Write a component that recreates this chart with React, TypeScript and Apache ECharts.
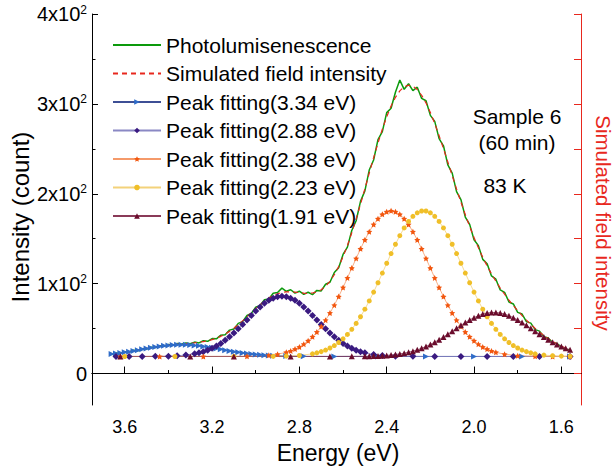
import React, { useEffect, useRef } from "react";
import * as echarts from "echarts";

const FONT = "'Liberation Sans', Arial, sans-serif";

// Energy grid (eV) for the measured PL and the simulated sum
const energyGrid = [3.66,3.64,3.62,3.60,3.58,3.56,3.54,3.52,3.50,3.48,3.46,3.44,3.42,3.40,3.38,3.36,3.34,3.32,3.30,3.28,3.26,3.24,3.22,3.20,3.18,3.16,3.14,3.12,3.10,3.08,3.06,3.04,3.02,3.00,2.98,2.96,2.94,2.92,2.90,2.88,2.86,2.84,2.82,2.80,2.78,2.76,2.74,2.72,2.70,2.68,2.66,2.64,2.62,2.60,2.58,2.56,2.54,2.52,2.50,2.48,2.46,2.44,2.42,2.40,2.38,2.36,2.34,2.32,2.30,2.28,2.26,2.24,2.22,2.20,2.18,2.16,2.14,2.12,2.10,2.08,2.06,2.04,2.02,2.00,1.98,1.96,1.94,1.92,1.90,1.88,1.86,1.84,1.82,1.80,1.78,1.76,1.74,1.72,1.70,1.68,1.66,1.64,1.62,1.60,1.58,1.56];

const plValues = [21.0,22.9,22.1,24.2,23.8,25.9,25.4,27.5,27.2,29.3, 28.9,30.9,30.4,32.3,31.6,33.4,32.5,34.1,33.2,35.0, 34.1,36.6,35.9,38.9,38.6,42.7,43.1,48.3,49.6,55.8, 57.7,64.6,66.9,73.9,75.8,82.1,83.0,89.4,90.2,95.0, 91.5,93.2,89.4,91.6,88.1,90.4,87.8,92.5,91.9,99.3, 101.5,112.4,117.6,132.5,140.6,159.1,170.0,191.5,203.2,226.4, 237.6,260.2,269.1,290.3,295.2,313.0,326.5,316.2,322.4,314.8, 318.6,306.1,303.5,287.2,280.6,261.3,253.4,232.1,223.0,202.4, 193.5,174.1,166.0,148.8,142.3,127.0,122.1,108.6,105.0,93.0, 90.3,79.6,77.4,68.1,66.2,57.8,56.1,48.9,47.2,40.9, 39.6,34.6,33.4,29.6,26.1,26.8];

const simValues = [21.7,22.2,22.9,23.6,24.3,25.2,26.0,26.9,27.8,28.7, 29.5,30.3,31.0,31.6,32.2,32.7,33.1,33.4,33.8,34.2, 34.8,35.5,36.4,37.7,39.3,41.4,43.9,46.9,50.4,54.3, 58.6,63.1,67.7,72.2,76.5,80.4,83.9,86.7,88.8,90.2, 90.8,90.9,90.6,90.0,89.5,89.2,89.6,90.9,93.3,97.2, 102.7,109.9,119.0,129.9,142.4,156.6,172.0,188.5,205.5,222.9, 240.0,256.4,271.8,285.7,297.6,307.3,314.5,319.0,320.8,319.7, 315.9,309.6,301.0,290.4,278.2,264.7,250.2,235.3,220.2,205.2, 190.7,176.8,163.6,151.3,139.9,129.4,119.7,110.9,102.7,95.2, 88.2,81.7,75.6,69.9,64.5,59.4,54.7,50.2,46.1,42.3, 38.8,35.7,32.9,30.5,28.4,26.6];

// Peak fitting 3.34 eV
const peak334E = [3.66,3.64,3.62,3.60,3.58,3.56,3.54,3.52,3.50,3.48,3.46,3.44,3.42,3.40,3.38,3.36,3.34,3.32,3.30,3.28,3.26,3.24,3.22,3.20,3.18,3.16,3.14,3.12,3.10,3.08,3.06,3.04,3.02,3.00,2.98,2.96,2.94,2.92,2.86,2.78,2.64,2.44,2.22,2.00,1.78,1.56];
const peak334V = [21.7,22.2,22.9,23.6,24.3,25.2,26.0,26.9,27.8,28.6,29.4,30.1,30.8,31.3,31.7,31.9,32.0,31.9,31.7,31.3,30.8,30.1,29.4,28.6,27.8,26.9,26.0,25.2,24.3,23.6,22.9,22.2,21.7,21.2,20.8,20.4,20.1,19.9,19.4,19.1,19.0,19.0,19.0,19.0,19.0,19.0];

// Peak fitting 2.88 eV
const peak288E = [3.64,3.58,3.52,3.46,3.40,3.36,3.32,3.28,3.26,3.24,3.22,3.20,3.18,3.16,3.14,3.12,3.10,3.08,3.06,3.04,3.02,3.00,2.98,2.96,2.94,2.92,2.90,2.88,2.86,2.84,2.82,2.80,2.78,2.76,2.74,2.72,2.70,2.68,2.66,2.64,2.62,2.60,2.58,2.56,2.54,2.52,2.50,2.46,2.42,2.36,2.28,2.18,2.06,1.94,1.82,1.70,1.56];
const peak288V = [19.0,19.0,19.0,19.1,19.3,19.7,20.5,21.9,23.0,24.3,26.0,28.1,30.6,33.5,36.9,40.8,45.0,49.7,54.6,59.6,64.7,69.6,74.1,78.1,81.5,83.9,85.5,86.0,85.5,83.9,81.5,78.1,74.1,69.6,64.7,59.6,54.6,49.7,45.0,40.8,36.9,33.5,30.6,28.1,26.0,24.3,23.0,21.1,20.1,19.3,19.1,19.0,19.0,19.0,19.0,19.0,19.0];

// Peak fitting 2.38 eV
const peak238E = [3.62,3.44,3.24,3.04,2.94,2.90,2.86,2.84,2.82,2.80,2.78,2.76,2.74,2.72,2.70,2.68,2.66,2.64,2.62,2.60,2.58,2.56,2.54,2.52,2.50,2.48,2.46,2.44,2.42,2.40,2.38,2.36,2.34,2.32,2.30,2.28,2.26,2.24,2.22,2.20,2.18,2.16,2.14,2.12,2.10,2.08,2.06,2.04,2.02,2.00,1.98,1.96,1.94,1.92,1.90,1.86,1.80,1.72,1.64,1.56];
const peak238V = [19.0,19.0,19.0,19.2,20.3,21.5,23.6,25.2,27.2,29.6,32.7,36.5,40.9,46.2,52.4,59.4,67.3,76.1,85.6,95.8,106.4,117.3,128.1,138.7,148.7,157.8,165.8,172.3,177.1,180.0,181.0,180.0,177.1,172.3,165.8,157.8,148.7,138.7,128.1,117.3,106.4,95.8,85.6,76.1,67.3,59.4,52.4,46.2,40.9,36.5,32.7,29.6,27.2,25.2,23.6,21.5,19.9,19.2,19.0,19.0];

// Peak fitting 2.23 eV
const peak223E = [3.60,3.37,3.10,2.92,2.86,2.80,2.74,2.72,2.70,2.68,2.66,2.64,2.62,2.60,2.58,2.56,2.54,2.52,2.50,2.48,2.46,2.44,2.42,2.40,2.38,2.36,2.34,2.32,2.30,2.28,2.26,2.24,2.22,2.20,2.18,2.16,2.14,2.12,2.10,2.08,2.06,2.04,2.02,2.00,1.98,1.96,1.94,1.92,1.90,1.88,1.86,1.84,1.82,1.80,1.78,1.76,1.74,1.72,1.68,1.64,1.60,1.56];
const peak223V = [19.0,19.0,19.0,19.1,19.4,20.1,21.9,23.0,24.4,26.1,28.4,31.1,34.5,38.6,43.5,49.2,55.8,63.2,71.6,80.8,90.6,101.0,111.8,122.7,133.5,143.8,153.4,162.0,169.2,174.9,178.8,180.8,180.8,178.8,174.9,169.2,162.0,153.4,143.8,133.5,122.7,111.8,101.0,90.6,80.8,71.6,63.2,55.8,49.2,43.5,38.6,34.5,31.1,28.4,26.1,24.4,23.0,21.9,20.5,19.8,19.4,19.2];

// Peak fitting 1.91 eV
const peak191E = [3.62,3.30,3.10,2.84,2.66,2.56,2.50,2.48,2.46,2.44,2.42,2.40,2.38,2.36,2.34,2.32,2.30,2.28,2.26,2.24,2.22,2.20,2.18,2.16,2.14,2.12,2.10,2.08,2.06,2.04,2.02,2.00,1.98,1.96,1.94,1.92,1.90,1.88,1.86,1.84,1.82,1.80,1.78,1.76,1.74,1.72,1.70,1.68,1.66,1.64,1.62,1.60,1.58,1.56];
const peak191V = [19.0,19.0,19.0,19.0,19.0,19.1,19.2,19.3,19.5,19.6,19.9,20.2,20.6,21.2,21.8,22.7,23.7,24.9,26.4,28.1,30.1,32.4,34.9,37.7,40.7,43.8,47.1,50.4,53.6,56.8,59.7,62.2,64.4,66.2,67.3,67.9,67.9,67.3,66.2,64.4,62.2,59.7,56.8,53.6,50.4,47.1,43.8,40.7,37.7,34.9,32.4,30.1,28.1,26.4];

const xMajorTicks = [3.6, 3.2, 2.8, 2.4, 2.0, 1.6];
const xMinorTicks = [3.4, 3.0, 2.6, 2.2, 1.8];
const yMajorTicks = [0, 100, 200, 300, 400];
const yMinorTicks = [50, 150, 250, 350];
const yRightTicks = [0, 50, 100, 150, 200, 250, 300, 350, 400];

const zip = (xs: number[], ys: number[]) => xs.map((x, i) => [x, ys[i]]);

const STAR = "path://M0,-10L2.9,-4L9.5,-3.1L4.8,1.5L5.9,8.1L0,5L-5.9,8.1L-4.8,1.5L-9.5,-3.1L-2.9,-4Z";

const centered = { textAlign: "center", textVerticalAlign: "middle", align: "center", verticalAlign: "middle" };

export default function App() {
  const ref = useRef<HTMLDivElement>(null);
  useEffect(() => {
    if (!ref.current) return;
    const chart = echarts.init(ref.current, undefined, { renderer: "svg" });
    const X = { min: 1.51, max: 3.75, inverse: true, type: "value" as const };
    const Y = { min: -35, max: 400, type: "value" as const };
    chart.setOption({
      animation: false,
      backgroundColor: "#fff",
      textStyle: { fontFamily: FONT },
      grid: { left: 92, right: 34, top: 14, bottom: 63, containLabel: false },
      legend: {
        orient: "vertical",
        left: 112,
        top: 34.5,
        padding: 0,
        itemWidth: 48,
        itemHeight: 7,
        itemGap: 7.5,
        selectedMode: false,
        textStyle: { fontSize: 21, lineHeight: 21, color: "#000", fontFamily: FONT },
        data: [
          { name: "Photolumisenescence", itemStyle: { opacity: 0 } },
          { name: "Simulated field intensity", itemStyle: { opacity: 0 } },
          { name: "Peak fitting(3.34 eV)" },
          { name: "Peak fitting(2.88 eV)" },
          { name: "Peak fitting(2.38 eV)" },
          { name: "Peak fitting(2.23 eV)" },
          { name: "Peak fitting(1.91 eV)" },
        ],
      },
      xAxis: [
        {
          ...X,
          position: "bottom",
          axisLine: { show: true, lineStyle: { color: "#000", width: 1 } },
          axisTick: { show: true, inside: true, length: 7, customValues: xMajorTicks, lineStyle: { color: "#000" } },
          axisLabel: {
            show: true,
            customValues: xMajorTicks,
            formatter: (v: number) => v.toFixed(1),
            fontSize: 18,
            color: "#000",
            margin: 13,
            fontFamily: FONT,
          },
          splitLine: { show: false },
        },
        {
          ...X,
          position: "bottom",
          axisLine: { show: false },
          axisTick: { show: true, inside: true, length: 3.5, customValues: xMinorTicks, lineStyle: { color: "#000" } },
          axisLabel: { show: false },
          splitLine: { show: false },
        },
        {
          ...X,
          position: "top",
          axisLine: { show: true, lineStyle: { color: "#000", width: 1 } },
          axisTick: { show: false },
          axisLabel: { show: false },
          splitLine: { show: false },
        },
      ],
      yAxis: [
        {
          ...Y,
          position: "left",
          axisLine: { show: true, lineStyle: { color: "#000", width: 1 } },
          axisTick: { show: true, inside: true, length: 6, customValues: yMajorTicks, lineStyle: { color: "#000" } },
          axisLabel: {
            show: true,
            customValues: yMajorTicks,
            margin: 5,
            formatter: (v: number) => (v === 0 ? "{b|0}" : `{b|${v / 100}x10}{s|2}`),
            rich: {
              b: { fontSize: 20, lineHeight: 21, color: "#000", fontFamily: FONT },
              s: { fontSize: 12, lineHeight: 12, color: "#000", fontFamily: FONT, padding: [0, 0, 9, 0] },
            },
          },
          splitLine: { show: false },
        },
        {
          ...Y,
          position: "left",
          axisLine: { show: false },
          axisTick: { show: true, inside: true, length: 3.5, customValues: yMinorTicks, lineStyle: { color: "#000" } },
          axisLabel: { show: false },
          splitLine: { show: false },
        },
        {
          ...Y,
          position: "right",
          axisLine: { show: true, lineStyle: { color: "#e8281e", width: 1 } },
          axisTick: { show: true, inside: true, length: 7, customValues: yRightTicks, lineStyle: { color: "#e8281e" } },
          axisLabel: { show: false },
          splitLine: { show: false },
        },
      ],
      series: [
        {
          name: "Photolumisenescence",
          type: "line",
          data: zip(energyGrid, plValues),
          symbol: "none",
          lineStyle: { color: "#0c9a0c", width: 1.5 },
          itemStyle: { color: "#0c9a0c" },
          z: 2,
        },
        {
          name: "Simulated field intensity",
          type: "line",
          data: zip(energyGrid, simValues),
          symbol: "none",
          lineStyle: { color: "#e8281e", width: 1.2, type: [5, 4] },
          itemStyle: { color: "#e8281e" },
          z: 3,
        },
        {
          name: "Peak fitting(3.34 eV)",
          type: "line",
          data: zip(peak334E, peak334V),
          symbol: "triangle",
          symbolRotate: -90,
          symbolSize: 6,
          itemStyle: { color: "#2f6cc8" },
          lineStyle: { color: "#3d4f95", width: 1 },
          z: 4,
        },
        {
          name: "Peak fitting(2.88 eV)",
          type: "line",
          data: zip(peak288E, peak288V),
          symbol: "diamond",
          symbolSize: 7,
          itemStyle: { color: "#3a1a80" },
          lineStyle: { color: "#8a88c4", width: 0.8 },
          z: 4,
        },
        {
          name: "Peak fitting(2.38 eV)",
          type: "line",
          data: zip(peak238E, peak238V),
          symbol: STAR,
          symbolSize: 6,
          itemStyle: { color: "#f2560e" },
          lineStyle: { color: "#f59a6a", width: 0.8 },
          z: 4,
        },
        {
          name: "Peak fitting(2.23 eV)",
          type: "line",
          data: zip(peak223E, peak223V),
          symbol: "circle",
          symbolSize: 5,
          itemStyle: { color: "#f0bf28" },
          lineStyle: { color: "#f3d27a", width: 0.8 },
          z: 4,
        },
        {
          name: "Peak fitting(1.91 eV)",
          type: "line",
          data: zip(peak191E, peak191V),
          symbol: "triangle",
          symbolSize: 6,
          itemStyle: { color: "#6a0c2c" },
          lineStyle: { color: "#8a3a58", width: 0.8 },
          z: 4,
        },
      ],
      graphic: [
        { type: "text", x: 517, y: 116, style: { text: "Sample 6", fontSize: 21, fontFamily: FONT, fill: "#000", ...centered } },
        { type: "text", x: 517, y: 142, style: { text: "(60 min)", fontSize: 21, fontFamily: FONT, fill: "#000", ...centered } },
        { type: "text", x: 505, y: 185, style: { text: "83 K", fontSize: 21, fontFamily: FONT, fill: "#000", ...centered } },
        { type: "text", x: 338, y: 453, style: { text: "Energy (eV)", fontSize: 23, fontFamily: FONT, fill: "#000", ...centered } },
        { type: "text", x: 20, y: 217, rotation: Math.PI / 2, style: { text: "Intensity (count)", fontSize: 24, fontFamily: FONT, fill: "#000", ...centered } },
        { type: "text", x: 603, y: 223, rotation: -Math.PI / 2, style: { text: "Simulated field intensity", fontSize: 20.5, fontFamily: FONT, fill: "#e8281e", ...centered } },
      ],
    });
    return () => chart.dispose();
  }, []);
  return <div ref={ref} style={{ position: "fixed", left: 0, top: 0, width: 615, height: 468 }} />;
}
